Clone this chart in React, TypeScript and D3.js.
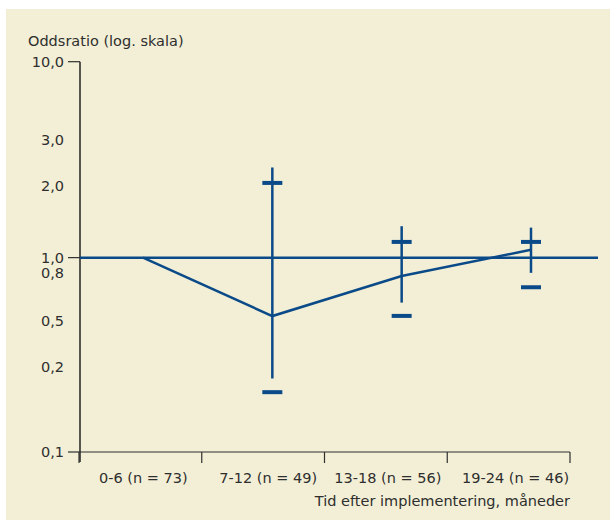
import React from "react";
import * as d3 from "d3";

const categories = ["0-6 (n = 73)", "7-12 (n = 49)", "13-18 (n = 56)", "19-24 (n = 46)"];
const oddsRatio = [1.0, 0.53, 0.78, 1.11];
const whiskerHigh = [null, 2.4, 1.44, 1.42];
const whiskerLow = [null, 0.186, 0.614, 0.8];
const capHigh = [null, 2.07, 1.22, 1.22];
const capLow = [null, 0.17, 0.531, 0.71];
const yTicks = [0.1, 0.2, 0.5, 0.8, 1, 2, 3, 10];
const yTickLabels = ["0,1", "0,2", "0,5", "0,8", "1,0", "2,0", "3,0", "10,0"];
// relative positions of the printed ticks (fraction of axis height from bottom)
const yTickFrac = [0, 0.219, 0.336, 0.459, 0.498, 0.681, 0.801, 1];

const W = 610;
const H = 520;
const BLUE = "#0b4a88";
const INK = "#2e2e2e";
const FONT = "'DejaVu Sans', sans-serif";

export default function App() {
  const top = 61.7;
  const bottom = 452;
  const left = 80;
  const axisRight = 570;

  const y = d3
    .scaleLinear()
    .domain(yTicks)
    .range(yTickFrac.map((f) => bottom - f * (bottom - top)));

  const xBand = d3.scaleBand().domain(categories).range([left - 1, axisRight]);
  const xPoint = d3.scalePoint().domain(categories).range([143, 531]);

  const line = d3
    .line<number>()
    .x((_, i) => xPoint(categories[i]) as number)
    .y((d) => y(d));

  const bandTicks = [...categories.map((c) => xBand(c) as number), axisRight];

  return (
    <svg width={W} height={H} style={{ position: "absolute", left: 0, top: 0 }} fontFamily={FONT}>
      <rect x={6} y={9} width={W - 6} height={H - 9} fill="#f3efd6" />
      <text x={28} y={46} fontSize={14.5} fill={INK}>
        Oddsratio (log. skala)
      </text>
      {/* y axis */}
      <line x1={left} x2={left} y1={top} y2={bottom + 10} stroke={INK} strokeWidth={1.6} />
      {yTicks.map((t, i) => {
        const yy = y(t);
        const isLine = t === 10 || t === 1 || t === 0.1;
        return (
          <g key={t}>
            {isLine && <line x1={68} x2={left} y1={yy} y2={yy} stroke={INK} strokeWidth={1.2} />}
            <text x={64} y={yy} dy="0.36em" textAnchor="end" fontSize={14.5} fill={INK}>
              {yTickLabels[i]}
            </text>
          </g>
        );
      })}
      {/* x axis */}
      <line x1={left} x2={axisRight} y1={bottom} y2={bottom} stroke={INK} strokeWidth={1.2} />
      {bandTicks.map((xx, i) => (
        <line key={i} x1={xx} x2={xx} y1={bottom} y2={bottom + 11} stroke={INK} strokeWidth={1.2} />
      ))}
      {categories.map((c, i) => (
        <text
          key={c}
          x={(xBand(c) as number) + xBand.bandwidth() / 2 + [3, 5, 2, 7][i]}
          y={483}
          textAnchor="middle"
          fontSize={14.5}
          fill={INK}
        >
          {c}
        </text>
      ))}
      <text x={axisRight} y={506} textAnchor="end" fontSize={14.5} fill={INK}>
        Tid efter implementering, måneder
      </text>
      {/* reference line at 1 */}
      <line x1={left} x2={598} y1={y(1)} y2={y(1)} stroke={BLUE} strokeWidth={2.5} />
      {/* whiskers and caps */}
      {categories.map((c, i) => {
        if (whiskerHigh[i] == null) return null;
        const xx = xPoint(c) as number;
        return (
          <g key={c}>
            <line x1={xx} x2={xx} y1={y(whiskerHigh[i] as number)} y2={y(whiskerLow[i] as number)} stroke={BLUE} strokeWidth={2.5} />
            <line x1={xx - 10} x2={xx + 10} y1={y(capHigh[i] as number)} y2={y(capHigh[i] as number)} stroke={BLUE} strokeWidth={4} />
            <line x1={xx - 10} x2={xx + 10} y1={y(capLow[i] as number)} y2={y(capLow[i] as number)} stroke={BLUE} strokeWidth={4} />
          </g>
        );
      })}
      <path d={line(oddsRatio) as string} fill="none" stroke={BLUE} strokeWidth={2.5} />
    </svg>
  );
}
